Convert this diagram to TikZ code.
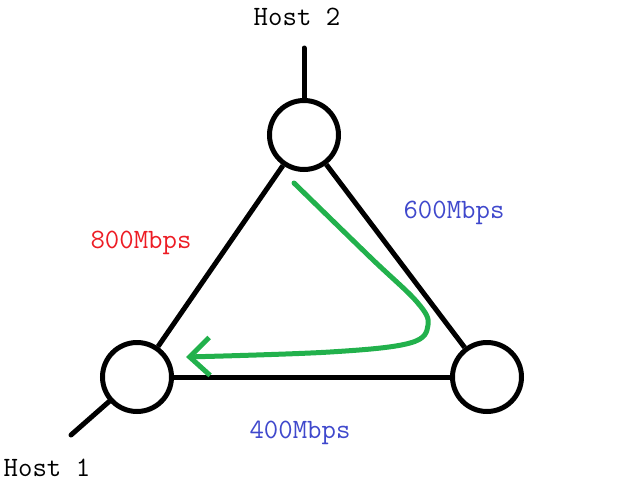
\documentclass[tikz,border=0pt]{standalone}
\usepackage{xcolor}
\usetikzlibrary{arrows.meta}
\definecolor{pathgreen}{RGB}{34,177,76}
\definecolor{ratered}{RGB}{237,28,36}
\definecolor{rateblue}{RGB}{63,72,204}

\begin{document}
\begin{tikzpicture}[x=1pt,y=-1pt,line width=5pt,
  router/.style={circle,draw,minimum size=69pt,inner sep=0pt},
  tag/.style={font=\ttfamily\fontsize{28}{28}\selectfont}]
\useasboundingbox (0,0) rectangle (643,483);
% routers
\node[router] (r2) at (304,135) {};
\node[router] (r1) at (137,377) {};
\node[router] (r3) at (487,377) {};
\draw (r2) -- (r1);
\draw (r2) -- (r3);
\draw (r1) -- (r3);
% hosts
\coordinate (h2) at (304,48);
\coordinate (h1) at (71,435);
\draw[line cap=round] (h2) -- (r2);
\draw[line cap=round] (h1) -- (r1);
\node[tag] (host2) at (297,17) {Host 2};
\node[tag] (host1) at (47,468) {Host 1};
% link rates
\node[tag,text=ratered] (rate12) at (141,243) {800Mbps};
\node[tag,text=rateblue] (rate23) at (454,213) {600Mbps};
\node[tag,text=rateblue] (rate13) at (300,433) {400Mbps};
% path
\draw[pathgreen,line cap=round,-{Straight Barb[length=20pt,width=38pt,line width=5pt]}]
  plot[smooth,tension=0.6] coordinates {(294,183) (370,257) (417,302) (428,325) (410,343) (330,352) (186,357)};
\end{tikzpicture}
\end{document}
